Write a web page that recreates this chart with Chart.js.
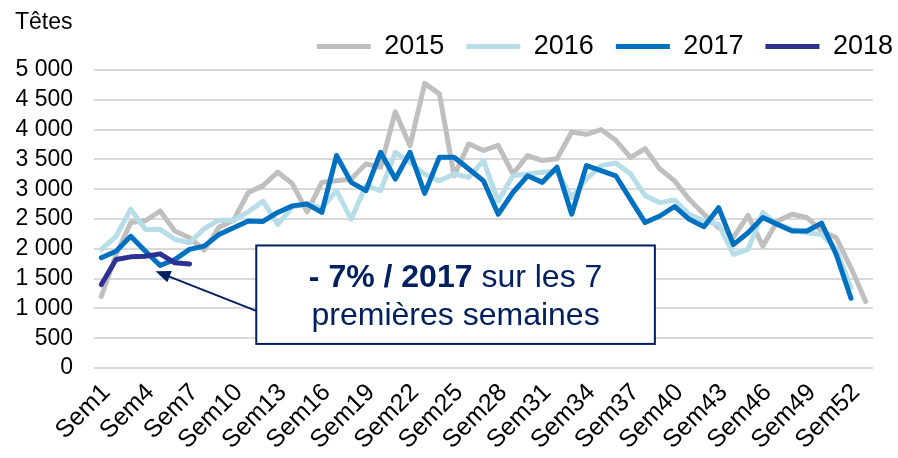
<!DOCTYPE html>
<html>
<head>
<meta charset="utf-8">
<script src="https://cdn.jsdelivr.net/npm/chart.js@4"></script>
<style>
  html, body { margin: 0; padding: 0; background: #fff; }
</style>
</head>
<body>
<canvas id="chart" width="898" height="458"></canvas>
<script>
// semaines 1..53
const weeks = Array.from({ length: 53 }, (_, i) => 'Sem' + (i + 1));
const xTickLabels = ['Sem1', 'Sem4', 'Sem7', 'Sem10', 'Sem13', 'Sem16', 'Sem19', 'Sem22', 'Sem25',
  'Sem28', 'Sem31', 'Sem34', 'Sem37', 'Sem40', 'Sem43', 'Sem46', 'Sem49', 'Sem52'];

const years = ['2015', '2016', '2017', '2018'];

const data2015 = [1200, 1900, 2440, 2470, 2635, 2300, 2185, 1980, 2360, 2480,
  2945, 3060, 3285, 3090, 2620, 3115, 3140, 3170, 3425, 3370,
  4300, 3730, 4775, 4600, 3225, 3760, 3650, 3735, 3255, 3565,
  3480, 3510, 3960, 3920, 4000, 3820, 3535, 3680, 3340, 3140,
  2830, 2580, 2355, 2190, 2560, 2045, 2465, 2580, 2525, 2300,
  2185, 1680, 1115];
const data2016 = [1990, 2210, 2665, 2325, 2325, 2160, 2100, 2340, 2480, 2480,
  2620, 2800, 2410, 2700, 2760, 2680, 2975, 2495, 3060, 2975,
  3620, 3450, 3250, 3140, 3255, 3200, 3480, 2800, 3225, 3255,
  3285, 3300, 2860, 3170, 3395, 3440, 3255, 2890, 2775, 2820,
  2580, 2465, 2410, 1905, 1990, 2610, 2410, 2325, 2270, 2240,
  2000, 1350];
const data2017 = [1850, 1960, 2210, 1960, 1720, 1820, 1990, 2045, 2240, 2355,
  2465, 2460, 2610, 2720, 2750, 2610, 3565, 3115, 2975, 3620,
  3170, 3620, 2930, 3535, 3535, 3340, 3140, 2580, 2945, 3225,
  3115, 3370, 2580, 3395, 3310, 3225, 2830, 2440, 2550, 2710,
  2495, 2370, 2690, 2070, 2270, 2525, 2410, 2300, 2300, 2430,
  1905, 1170];
const data2018 = [1400, 1820, 1865, 1875, 1915, 1765, 1745];

const colors = ['#BFBFBF', '#B7DEE8', '#0070C0', '#2E3192'];
const navy = '#002060';

// encadré : coins et flèche en coordonnées de données (index semaine, têtes)
const noteBox = { x0: 10.54, y0: 2056, x1: 37.66, y1: 404 };
const noteArrow = { tipX: 3.69, tipY: 1625, tailY: 958 };

function fmt(v) {
  if (v < 1000) return String(v);
  return Math.floor(v / 1000) + ' ' + String(v % 1000).padStart(3, '0');
}

const extras = {
  id: 'extras',
  afterDraw(chart) {
    const { ctx, scales: { x, y } } = chart;
    ctx.save();
    // unité
    ctx.fillStyle = '#000';
    ctx.font = '23px "Liberation Sans", Arial, sans-serif';
    ctx.textBaseline = 'alphabetic';
    ctx.textAlign = 'left';
    ctx.fillText('Têtes', 15, 29);

    // encadré
    const bx0 = x.getPixelForValue(noteBox.x0), bx1 = x.getPixelForValue(noteBox.x1);
    const by0 = y.getPixelForValue(noteBox.y0), by1 = y.getPixelForValue(noteBox.y1);
    ctx.fillStyle = '#fff';
    ctx.fillRect(bx0, by0, bx1 - bx0, by1 - by0);
    ctx.strokeStyle = navy;
    ctx.lineWidth = 2;
    ctx.strokeRect(bx0, by0, bx1 - bx0, by1 - by0);

    // flèche
    const tx = x.getPixelForValue(noteArrow.tipX), ty = y.getPixelForValue(noteArrow.tipY);
    const sx = bx0, sy = y.getPixelForValue(noteArrow.tailY);
    const ang = Math.atan2(ty - sy, tx - sx);
    const hl = 15, hw = 6;
    ctx.beginPath();
    ctx.moveTo(sx, sy);
    ctx.lineTo(tx - Math.cos(ang) * hl * 0.8, ty - Math.sin(ang) * hl * 0.8);
    ctx.stroke();
    ctx.fillStyle = navy;
    ctx.beginPath();
    ctx.moveTo(tx, ty);
    ctx.lineTo(tx - Math.cos(ang) * hl - Math.sin(ang) * hw, ty - Math.sin(ang) * hl + Math.cos(ang) * hw);
    ctx.lineTo(tx - Math.cos(ang) * hl + Math.sin(ang) * hw, ty - Math.sin(ang) * hl - Math.cos(ang) * hw);
    ctx.closePath();
    ctx.fill();

    // texte
    const cx = (bx0 + bx1) / 2;
    const boldPart = '- 7% / 2017', normPart = ' sur les 7';
    const fb = 'bold 32px "Liberation Sans", Arial, sans-serif';
    const fn = '32px "Liberation Sans", Arial, sans-serif';
    ctx.font = fb; const wb = ctx.measureText(boldPart).width;
    ctx.font = fn; const wn = ctx.measureText(normPart).width;
    let lx = cx - (wb + wn) / 2;
    ctx.textAlign = 'left';
    ctx.fillStyle = navy;
    ctx.font = fb; ctx.fillText(boldPart, lx, by0 + 41.5);
    ctx.font = fn; ctx.fillText(normPart, lx + wb, by0 + 41.5);
    ctx.textAlign = 'center';
    ctx.fillText('premières semaines', cx, by0 + 80);
    ctx.restore();
  }
};

const series = [data2015, data2016, data2017, data2018];

new Chart(document.getElementById('chart'), {
  type: 'line',
  data: {
    labels: weeks,
    datasets: series.map((d, i) => ({
      label: years[i],
      data: d,
      borderColor: colors[i],
      backgroundColor: colors[i],
      borderWidth: 5,
      borderCapStyle: 'round',
      borderJoinStyle: 'round',
      pointRadius: 0,
      tension: 0,
      order: 3 - i
    }))
  },
  options: {
    responsive: false,
    animation: false,
    layout: { padding: { top: 11, right: -17, bottom: 0, left: 0 } },
    plugins: {
      legend: {
        position: 'top',
        align: 'end',
        labels: {
          usePointStyle: true,
          pointStyle: 'line',
          pointStyleWidth: 54,
          padding: 22,
          color: '#000',
          font: { family: '"Liberation Sans", Arial, sans-serif', size: 27 },
          sort: (a, b) => a.datasetIndex - b.datasetIndex
        }
      },
      tooltip: { enabled: false }
    },
    scales: {
      x: {
        type: 'category',
        offset: true,
        grid: { display: false },
        border: { display: false },
        ticks: {
          autoSkip: false,
          maxRotation: 45,
          minRotation: 45,
          padding: 2,
          labelOffset: 5,
          color: '#000',
          font: { family: '"Liberation Sans", Arial, sans-serif', size: 25 },
          callback: (v, i) => xTickLabels.includes(weeks[i]) ? weeks[i] : ''
        },
        afterFit: s => { s.height = 90; }
      },
      y: {
        min: 0,
        max: 5000,
        grid: { color: '#D9D9D9', lineWidth: 2, drawTicks: false },
        border: { display: false },
        ticks: {
          stepSize: 500,
          autoSkip: false,
          padding: 21,
          color: '#000',
          font: { family: '"Liberation Sans", Arial, sans-serif', size: 23 },
          callback: v => fmt(v)
        },
        afterFit: s => { s.width = 94; }
      },
      yRight: {
        position: 'right',
        display: true,
        grid: { display: false },
        border: { display: false },
        ticks: { display: false },
        afterFit: s => { s.width = 42; }
      }
    }
  },
  plugins: [extras]
});
</script>
</body>
</html>
